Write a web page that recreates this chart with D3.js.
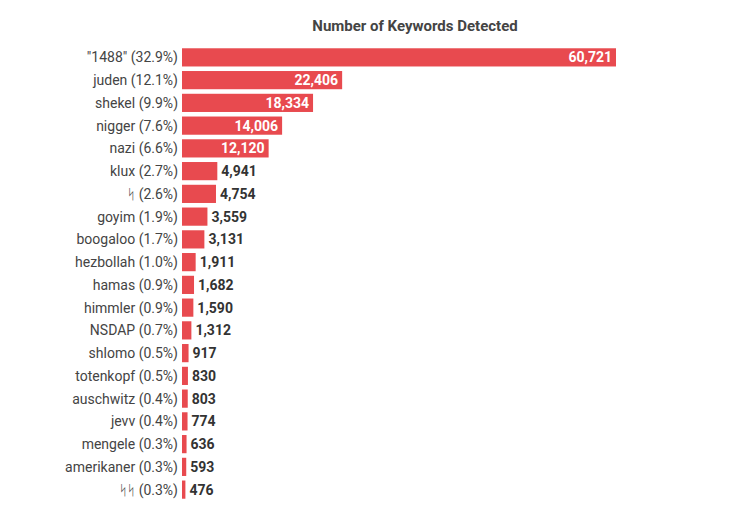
<!DOCTYPE html>
<html>
<head>
<meta charset="utf-8">
<script src="https://cdn.jsdelivr.net/npm/d3@7"></script>
<style>
  body { margin: 0; background: #fff; }
  text { font-family: Roboto, "DejaVu Sans", sans-serif; }
</style>
</head>
<body>
<svg width="732" height="518"></svg>
<script>
// keyword names, share of total and count
const keywords = ['"1488"', 'juden', 'shekel', 'nigger', 'nazi', 'klux', 'ᛋ', 'goyim', 'boogaloo',
  'hezbollah', 'hamas', 'himmler', 'NSDAP', 'shlomo', 'totenkopf', 'auschwitz', 'jevv',
  'mengele', 'amerikaner', 'ᛋᛋ'];
const shares = ['32.9', '12.1', '9.9', '7.6', '6.6', '2.7', '2.6', '1.9', '1.7',
  '1.0', '0.9', '0.9', '0.7', '0.5', '0.5', '0.4', '0.4', '0.3', '0.3', '0.3'];
const counts = [60721, 22406, 18334, 14006, 12120, 4941, 4754, 3559, 3131,
  1911, 1682, 1590, 1312, 917, 830, 803, 774, 636, 593, 476];

const data = keywords.map((k, i) => ({ label: `${k} (${shares[i]}%)`, value: counts[i] }));

const svg = d3.select('svg');
const margin = { left: 182, top: 46 };
const plotW = 434;
const rowH = 22.75;

const x = d3.scaleLinear().domain([0, d3.max(counts)]).range([0, plotW]);
const y = d3.scaleBand()
  .domain(data.map((d) => d.label))
  .range([0, rowH * data.length])
  .paddingInner(0.2)
  .paddingOuter(0.1);

const g = svg.append('g').attr('transform', `translate(${margin.left},${margin.top})`);

// title
svg.append('text')
  .attr('x', 415)
  .attr('y', 31)
  .attr('text-anchor', 'middle')
  .attr('font-size', '15px')
  .attr('font-weight', 'bold')
  .attr('fill', '#444')
  .text('Number of Keywords Detected');

// bars
g.selectAll('rect')
  .data(data)
  .enter()
  .append('rect')
  .attr('x', 0)
  .attr('y', (d) => y(d.label))
  .attr('width', (d) => x(d.value))
  .attr('height', y.bandwidth())
  .attr('fill', '#e84a4f');

// category labels
g.selectAll('.cat')
  .data(data)
  .enter()
  .append('text')
  .attr('class', 'cat')
  .attr('x', -4)
  .attr('y', (d) => y(d.label) + y.bandwidth() / 2)
  .attr('dy', '0.35em')
  .attr('text-anchor', 'end')
  .attr('font-size', '14px')
  .attr('fill', '#444')
  .text((d) => d.label);

// value labels: inside the bar when it fits, else just after it
const fmt = d3.format(',');
g.selectAll('.val')
  .data(data)
  .enter()
  .append('text')
  .attr('class', 'val')
  .attr('y', (d) => y(d.label) + y.bandwidth() / 2)
  .attr('dy', '0.35em')
  .attr('font-size', '14px')
  .attr('font-weight', 'bold')
  .text((d) => fmt(d.value))
  .each(function (d) {
    const w = this.getComputedTextLength();
    const inside = x(d.value) > w + 10;
    d3.select(this)
      .attr('x', inside ? x(d.value) - 4 : x(d.value) + 4)
      .attr('text-anchor', inside ? 'end' : 'start')
      .attr('fill', inside ? '#fff' : '#333');
  });
</script>
</body>
</html>
